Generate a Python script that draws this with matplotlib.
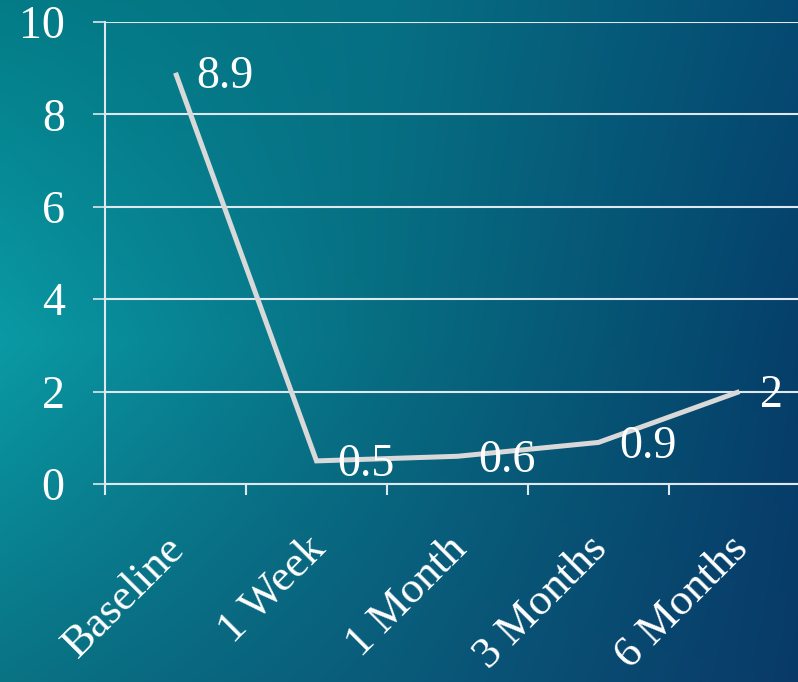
import numpy as np
import matplotlib
matplotlib.use("Agg")
import matplotlib.pyplot as plt
from matplotlib.colors import to_rgb
from matplotlib.transforms import ScaledTranslation

# Data
categories = ["Baseline", "1 Week", "1 Month", "3 Months", "6 Months"]
values = [8.9, 0.5, 0.6, 0.9, 2]
value_labels = ["8.9", "0.5", "0.6", "0.9", "2"]
y_ticks = [0, 2, 4, 6, 8, 10]

W, H, DPI = 798, 682, 100
plt.rcParams["font.family"] = ["Liberation Serif", "DejaVu Serif"]

fig = plt.figure(figsize=(W / DPI, H / DPI), dpi=DPI)

# Backdrop: smooth blend of a coarse colour grid (teal on the left, blue on the right)
grid_cols = [
    ["#037c87", "#066f83", "#064a72"],
    ["#0a9aa5", "#076c80", "#053f6a"],
    ["#0a7384", "#0a5a7a", "#093a68"],
]
gx = np.array([0.0, 0.5, 1.0])
gy = np.array([0.0, 0.5, 1.0])
rgb = np.array([[to_rgb(c) for c in row] for row in grid_cols])  # (3,3,3)
u = np.linspace(0, 1, W)
v = np.linspace(0, 1, H)
rows = np.stack([np.stack([np.interp(u, gx, rgb[i, :, ch]) for ch in range(3)], -1)
                 for i in range(3)])  # (3, W, 3)
img = np.empty((H, W, 3))
for ch in range(3):
    for j in range(W):
        img[:, j, ch] = np.interp(v, gy, rows[:, j, ch])

bg = fig.add_axes([0, 0, 1, 1], zorder=0)
bg.set_axis_off()
bg.imshow(img, aspect="auto", interpolation="bilinear", extent=(0, W, H, 0))
bg.set_xlim(0, W)
bg.set_ylim(H, 0)

# Chart area
ax = fig.add_axes([105 / W, 1 - 484 / H, 705 / W, 462 / H], zorder=1)
ax.patch.set_alpha(0)
x = np.arange(len(categories))
ax.set_xlim(-0.5, len(categories) - 0.5)
ax.set_ylim(0, 10)

grid_color = "#dfe8ee"
ax.set_yticks(y_ticks)
ax.set_yticklabels([str(t) for t in y_ticks])
ax.yaxis.grid(True, color=grid_color, linewidth=1.5)
ax.set_axisbelow(True)
for side in ("top", "right"):
    ax.spines[side].set_visible(False)
for side in ("left", "bottom"):
    ax.spines[side].set_color(grid_color)
    ax.spines[side].set_linewidth(1.5)

ax.tick_params(axis="y", colors=grid_color, length=9, width=1.2, pad=20,
               labelsize=33, labelcolor="white")

# Category ticks sit between categories; labels are centred on each category
ax.set_xticks(np.arange(-0.5, len(categories) - 0.5, 1.0), minor=True)
ax.set_xticks(x)
ax.set_xticklabels(categories)
ax.tick_params(axis="x", which="minor", colors=grid_color, length=8, width=1.5,
               direction="out")
ax.tick_params(axis="x", which="major", length=0, pad=32, labelsize=32,
               labelcolor="white")
for lab in ax.get_xticklabels():
    lab.set_rotation(45)
    lab.set_ha("right")
    lab.set_va("top")
    lab.set_transform(lab.get_transform() + ScaledTranslation(17 / DPI, 0, fig.dpi_scale_trans))

ax.plot(x, values, color="#d9d9d9", linewidth=3.6, solid_joinstyle="miter",
        solid_capstyle="butt", zorder=3, clip_on=False)

for xi, val, s in zip(x, values, value_labels):
    ax.annotate(s, (xi, val), xytext=(15, -3), textcoords="offset points",
                ha="left", va="center", fontsize=33, color="white", zorder=4)

fig.savefig("out.png", dpi=DPI)
